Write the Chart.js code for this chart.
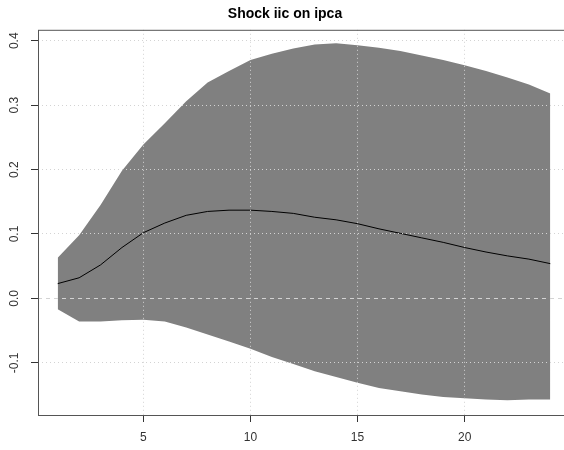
<!DOCTYPE html>
<html>
<head>
<meta charset="utf-8">
<script src="https://cdn.jsdelivr.net/npm/chart.js@4/dist/chart.umd.min.js"></script>
<style>
  html, body { margin: 0; padding: 0; background: #fff; overflow: hidden; }
  #wrap { position: relative; width: 608px; height: 450px; }
</style>
</head>
<body>
<div id="wrap"><canvas id="irf-chart"></canvas></div>
<script>
// impulse response of ipca to a shock in iic, with its confidence band
const horizon = [1, 2, 3, 4, 5, 6, 7, 8, 9, 10, 11, 12, 13, 14, 15, 16, 17, 18, 19, 20, 21, 22, 23, 24];
const irf = [0.023, 0.032, 0.052, 0.079, 0.102, 0.117, 0.129, 0.135, 0.137, 0.137, 0.135, 0.132,
             0.126, 0.122, 0.116, 0.108, 0.101, 0.094, 0.087, 0.079, 0.072, 0.066, 0.061, 0.054];
const upper = [0.063, 0.098, 0.145, 0.198, 0.239, 0.272, 0.306, 0.335, 0.353, 0.370, 0.380, 0.388,
               0.394, 0.396, 0.393, 0.389, 0.384, 0.377, 0.370, 0.362, 0.353, 0.343, 0.332, 0.318];
const lower = [-0.017, -0.036, -0.036, -0.034, -0.033, -0.036, -0.045, -0.056, -0.067, -0.078, -0.091, -0.102,
               -0.113, -0.122, -0.131, -0.139, -0.144, -0.149, -0.153, -0.155, -0.157, -0.158, -0.157, -0.157];
const xTicks = [5, 10, 15, 20];
const yTicks = [-0.1, 0.0, 0.1, 0.2, 0.3, 0.4];

const FONT = "'Liberation Sans', Arial, sans-serif";
const pts = arr => horizon.map((h, i) => ({ x: h, y: arr[i] }));

// frame box + vertical y tick labels (base-graphics style)
const frameAndLabels = {
  id: 'frameAndLabels',
  afterDraw(chart) {
    const { ctx, chartArea: a, scales } = chart;
    ctx.save();
    ctx.strokeStyle = '#555';
    ctx.lineWidth = 1;
    ctx.strokeRect(a.left + 0.5, a.top + 0.5, a.right - a.left, a.bottom - a.top);

    ctx.fillStyle = '#333';
    ctx.font = '12px ' + FONT;
    ctx.textAlign = 'center';
    ctx.textBaseline = 'middle';
    yTicks.forEach(v => {
      const y = scales.y.getPixelForValue(v);
      ctx.save();
      ctx.translate(15, y);
      ctx.rotate(-Math.PI / 2);
      ctx.fillText(v.toFixed(1), 0, 0);
      ctx.restore();
    });
    ctx.restore();
  }
};

new Chart(document.getElementById('irf-chart'), {
  type: 'line',
  data: {
    datasets: [
      {
        label: 'lower',
        data: pts(lower),
        borderColor: 'transparent',
        borderWidth: 0,
        pointRadius: 0,
        fill: false,
        order: 2
      },
      {
        label: 'upper',
        data: pts(upper),
        borderColor: 'transparent',
        borderWidth: 0,
        pointRadius: 0,
        backgroundColor: '#808080',
        fill: '-1',
        order: 1
      },
      {
        // drawn last so it sits on top of the band
        label: 'irf',
        data: pts(irf),
        borderColor: '#000',
        borderWidth: 1,
        pointRadius: 0,
        fill: false,
        order: 0
      }
    ]
  },
  options: {
    responsive: true,
    maintainAspectRatio: false,
    animation: false,
    layout: { padding: { left: 0, right: 38, top: 0, bottom: 0 } },
    plugins: {
      legend: { display: false },
      tooltip: { enabled: false },
      title: {
        display: true,
        text: 'Shock iic on ipca',
        color: '#000',
        font: { family: FONT, size: 14, weight: 'bold', lineHeight: 1.2 },
        padding: { top: 6, bottom: 7 }
      }
    },
    scales: {
      x: {
        type: 'linear',
        min: 0.08,
        max: 24.92,
        afterBuildTicks: s => { s.ticks = xTicks.map(v => ({ value: v })); },
        afterFit: s => { s.height = 35; },
        grid: { color: '#d3d3d3', z: 1, tickLength: 7, tickColor: '#333' },
        border: { display: false, dash: [1, 3] },
        ticks: { color: '#333', padding: 8, maxRotation: 0, font: { family: FONT, size: 12 } }
      },
      y: {
        min: -0.181,
        max: 0.417,
        afterBuildTicks: s => { s.ticks = yTicks.map(v => ({ value: v })); },
        afterFit: s => { s.width = 38; },
        grid: { color: '#d3d3d3', z: 1, tickLength: 7, tickColor: '#333' },
        border: { display: false, dash: ctx => (ctx.tick && ctx.tick.value === 0 ? [4, 4] : [1, 3]) },
        ticks: { display: false }
      }
    }
  },
  plugins: [frameAndLabels]
});
</script>
</body>
</html>
